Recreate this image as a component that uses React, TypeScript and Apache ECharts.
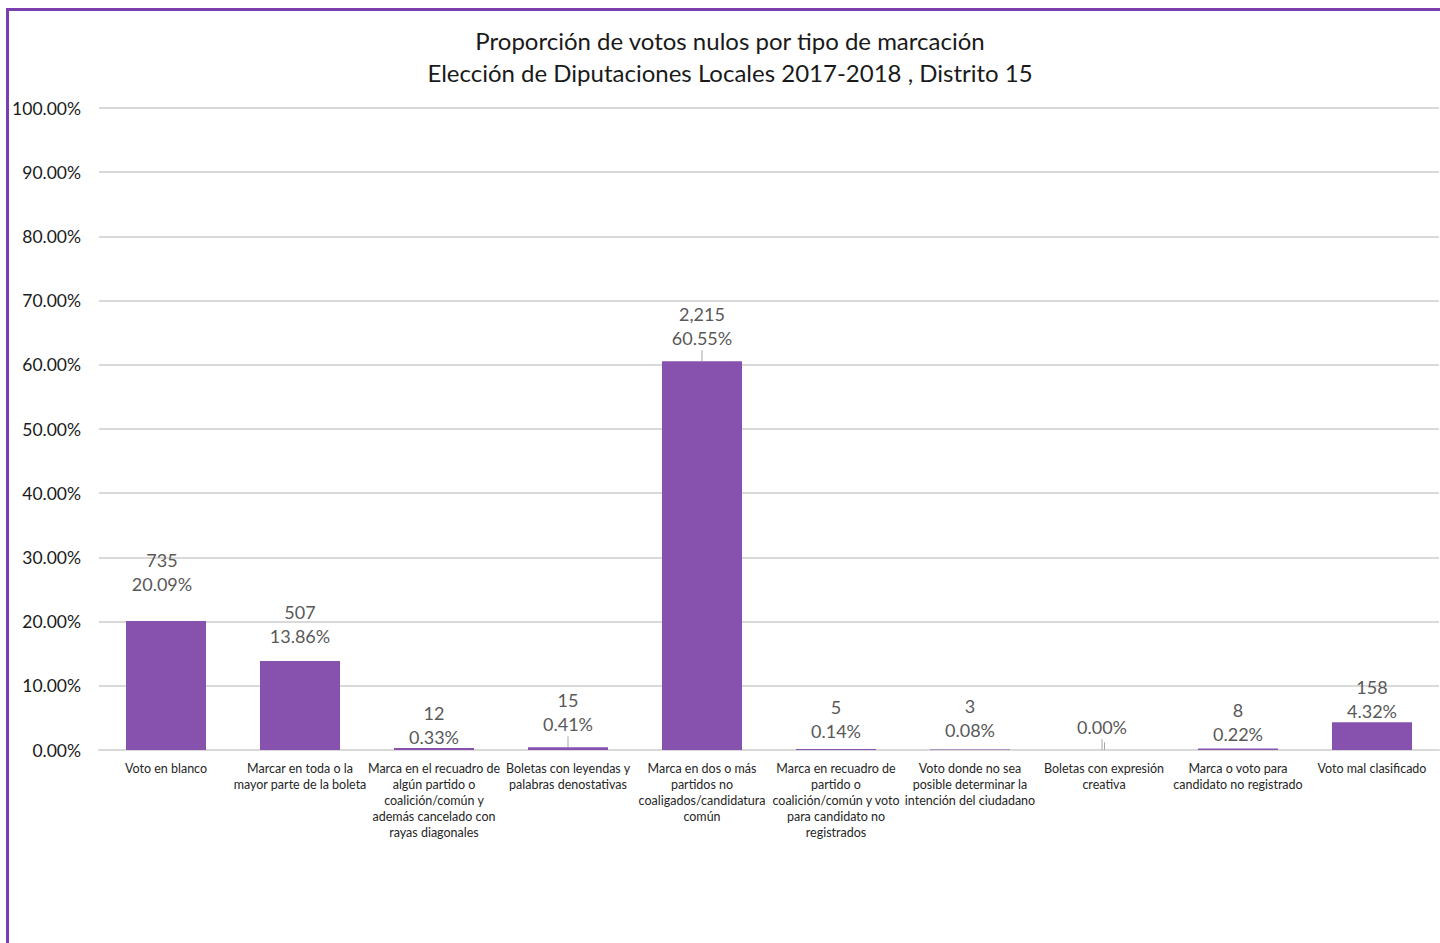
import React, { useEffect, useRef } from "react";
import * as echarts from "echarts";

const categories: string[] = [
  "Voto en blanco",
  "Marcar en toda o la\nmayor parte de la boleta",
  "Marca en el recuadro de\nalgún partido o\ncoalición/común y\nademás cancelado con\nrayas diagonales",
  "Boletas con leyendas y\npalabras denostativas",
  "Marca en dos o más\npartidos no\ncoaligados/candidatura\ncomún",
  "Marca en recuadro de\npartido o\ncoalición/común y voto\npara candidato no\nregistrados",
  "Voto donde no sea\nposible determinar la\nintención del ciudadano",
  "Boletas con expresión\ncreativa",
  "Marca o voto para\ncandidato no registrado",
  "Voto mal clasificado",
];

const percentages: number[] = [20.09, 13.86, 0.33, 0.41, 60.55, 0.14, 0.08, 0.0, 0.22, 4.32];
const counts: number[] = [735, 507, 12, 15, 2215, 5, 3, 0, 8, 158];
const yTicks: number[] = [0, 10, 20, 30, 40, 50, 60, 70, 80, 90, 100];

// label layout tweaks (gap above bar, horizontal shift, leader line)
const labelGap: number[] = [25, 13, -1, 11, 11, 6, 7, 11, 3, -1];
const labelShift: number[] = [-4, 0, 0, 0, 0, 0, 0, -2, 0, 0];
const leaderLine: boolean[] = [false, false, false, true, true, false, false, true, false, false];

const FONT = "Lato, 'Noto Sans', sans-serif";

export default function App() {
  const ref = useRef<HTMLDivElement>(null);

  useEffect(() => {
    if (!ref.current) return;
    const chart = echarts.init(ref.current, undefined, { renderer: "svg" });
    const fmt = (n: number) => n.toLocaleString("en-US");
    chart.setOption({
      animation: false,
      backgroundColor: "#ffffff",
      textStyle: { fontFamily: FONT },
      title: {
        text: "Proporción de votos nulos por tipo de marcación\nElección de Diputaciones Locales 2017-2018 , Distrito 15",
        left: 725,
        top: 19,
        textAlign: "center",
        textStyle: {
          fontFamily: FONT,
          fontSize: 24,
          fontWeight: "normal",
          color: "#1a1a1a",
          lineHeight: 32,
        },
      },
      graphic: [
        {
          type: "rect",
          shape: { x: 7.5, y: 9.5, width: 1600, height: 1200 },
          style: { fill: "none", stroke: "#7B3FB0", lineWidth: 3 },
          silent: true,
          z: 100,
        },
      ],
      grid: { left: 99, right: 1, top: 108, bottom: 193, containLabel: false },
      xAxis: {
        type: "category",
        data: categories,
        axisLine: { show: true, lineStyle: { color: "#d9d9d9", width: 2 } },
        axisTick: { show: false },
        axisLabel: {
          interval: 0,
          margin: 10,
          fontFamily: FONT,
          fontSize: 12.5,
          lineHeight: 16,
          color: "#262626",
          align: "center",
        },
      },
      yAxis: {
        type: "value",
        min: yTicks[0],
        max: yTicks[yTicks.length - 1],
        interval: 10,
        axisLine: { show: false },
        axisTick: { show: false },
        splitLine: { lineStyle: { color: "#d9d9d9", width: 2 } },
        axisLabel: {
          margin: 18,
          fontFamily: FONT,
          fontSize: 17.5,
          color: "#1a1a1a",
          formatter: (v: number) => v.toFixed(2) + "%",
        },
      },
      series: [
        {
          type: "bar",
          barWidth: 80,
          itemStyle: { color: "#8652AE" },
          data: percentages.map((p, i) => ({
            value: p,
            labelLine: { show: leaderLine[i], lineStyle: { color: "#a6a6a6", width: 1 } },
          })),
          label: {
            show: true,
            position: "top",
            distance: 5,
            fontFamily: FONT,
            fontSize: 18,
            lineHeight: 24,
            color: "#595959",
            formatter: (params: any) => {
              const i = params.dataIndex;
              const pct = percentages[i].toFixed(2) + "%";
              return counts[i] === 0 ? pct : fmt(counts[i]) + "\n" + pct;
            },
          },
          labelLayout: (params: any) => ({
            dx: labelShift[params.dataIndex],
            dy: -(labelGap[params.dataIndex] - 5),
          }),
          labelLine: { show: false },
          markLine: {
            silent: true,
            symbol: "none",
            label: { show: false },
            lineStyle: { color: "#a6a6a6", width: 1, type: "solid" },
            data: [[{ coord: [categories[7], 0] }, { coord: [categories[7], 1.2] }]],
          },
        },
      ],
    });
    return () => chart.dispose();
  }, []);

  return (
    <div
      ref={ref}
      style={{ position: "absolute", left: 0, top: 0, width: 1440, height: 943 }}
    />
  );
}
